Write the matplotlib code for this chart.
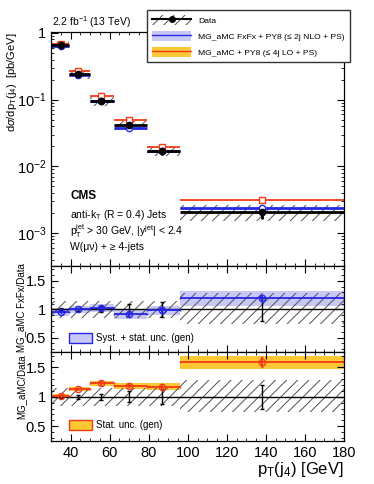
import numpy as np
import matplotlib
matplotlib.use("Agg")
import matplotlib.pyplot as plt
from matplotlib.patches import Patch
from matplotlib.lines import Line2D
from matplotlib.ticker import AutoMinorLocator, FixedLocator, FuncFormatter

plt.rcParams['font.family'] = ['Liberation Sans', 'DejaVu Sans']
plt.rcParams['mathtext.fontset'] = 'custom'
plt.rcParams['mathtext.rm'] = 'Liberation Sans'
plt.rcParams['mathtext.it'] = 'Liberation Sans:italic'
plt.rcParams['mathtext.bf'] = 'Liberation Sans:bold'
plt.rcParams['hatch.linewidth'] = 0.7

# bins in pT(j4) and where the points sit
edges = [30, 39, 50, 62, 79, 96, 180]
centers = [35, 44, 55.5, 70, 87, 138]

# cross sections [pb/GeV]
data = [0.66, 0.239, 0.0955, 0.041, 0.017, 0.00204]
fxfx = [0.64, 0.236, 0.097, 0.037, 0.0168, 0.00236]
lo = [0.69, 0.27, 0.115, 0.049, 0.0195, 0.00315]

# data uncertainties (relative)
data_stat = [0.02, 0.03, 0.05, 0.09, 0.13, 0.20]
syst_up = [0.15, 0.15, 0.15, 0.15, 0.15, 0.29]
syst_dn = [0.15, 0.15, 0.15, 0.15, 0.15, 0.25]

# ratios to data
r_fxfx = [0.955, 1.0, 1.03, 0.92, 0.98, 1.19]
r_fxfx_band = [0.07, 0.06, 0.07, 0.09, 0.08, 0.13]
r_fxfx_err = [0.02, 0.02, 0.03, 0.03, 0.04, 0.06]
r_lo = [1.02, 1.13, 1.23, 1.19, 1.17, 1.59]
r_lo_band = [0.03, 0.03, 0.04, 0.05, 0.06, 0.11]
r_lo_err = [0.02, 0.02, 0.03, 0.03, 0.05, 0.09]

blue = '#2626e6'
blue_band = '#c8c8f7'
red = '#f23a17'
orange = '#fec835'
hatch_col = '#505050'

edges = np.array(edges)
centers = np.array(centers)
xlo = centers - edges[:-1]
xhi = edges[1:] - centers
widths = np.diff(edges)

fig = plt.figure(figsize=(3.74, 4.84), dpi=100)
L, W = 51 / 374, 293 / 374
ax1 = fig.add_axes([L, 1 - 266 / 484, W, 234 / 484])
ax2 = fig.add_axes([L, 1 - 352 / 484, W, 86 / 484])
ax3 = fig.add_axes([L, 1 - 441 / 484, W, 89 / 484])

# ---- top panel
d = np.array(data)
ax1.bar(edges[:-1], d * (np.array(syst_up) + np.array(syst_dn)),
        bottom=d * (1 - np.array(syst_dn)), width=widths, align='edge',
        fill=False, hatch='///', edgecolor=hatch_col, lw=0)
ax1.errorbar(centers, lo, xerr=[xlo, xhi], fmt='s', color=red, mfc='white',
             mec=red, ms=5, lw=1.3, capsize=0)
ax1.errorbar(centers, fxfx, xerr=[xlo, xhi], fmt='o', color=blue, mfc='white',
             mec=blue, ms=4.5, lw=2, capsize=0)
ax1.errorbar(centers, data, xerr=[xlo, xhi], yerr=d * np.array(data_stat),
             fmt='o', color='k', ms=4.5, lw=2, capsize=0)
ax1.set_yscale('log')
ax1.set_ylim(3.2e-4, 1.035)


def logfmt(v, pos):
    if abs(v - 1) < 1e-9:
        return '1'
    return r'$10^{%d}$' % int(round(np.log10(v)))


ax1.yaxis.set_major_formatter(FuncFormatter(logfmt))
ax1.set_ylabel(r'd$\sigma$/dp$_{\mathrm{T}}$(j$_{4}$)  [pb/GeV]', fontsize=8,
               loc='top')
ax1.yaxis.set_label_coords(-0.11, 1.0)

ax1.text(0.003, 1.008, r'2.2 fb$^{-1}$ (13 TeV)', transform=ax1.transAxes,
         fontsize=7.5, va='bottom', ha='left')
ax1.text(0.065, 0.30, 'CMS', transform=ax1.transAxes, fontsize=8.5,
         fontweight='bold', va='center')
ax1.text(0.065, 0.218, r'anti-k$_{\mathrm{T}}$ (R = 0.4) Jets',
         transform=ax1.transAxes, fontsize=7.5, va='center')
ax1.text(0.065, 0.150, r'p$_{\mathrm{T}}^{\mathrm{jet}}$ > 30 GeV, |y$^{\mathrm{jet}}$| < 2.4',
         transform=ax1.transAxes, fontsize=7.5, va='center')
ax1.text(0.065, 0.082, 'W(μν) + ≥ 4-jets', transform=ax1.transAxes,
         fontsize=7.5, va='center')

# ---- middle panel: FxFx / data
ones = np.ones(len(centers))
ax2.bar(edges[:-1], 2 * np.array(r_fxfx_band),
        bottom=np.array(r_fxfx) - np.array(r_fxfx_band), width=widths,
        align='edge', color=blue_band, lw=0)
ax2.bar(edges[:-1], np.array(syst_up) + np.array(syst_dn),
        bottom=1 - np.array(syst_dn), width=widths, align='edge',
        fill=False, hatch='///', edgecolor=hatch_col, lw=0)
ax2.axhline(1, color='k', lw=1)
ax2.errorbar(centers, ones, yerr=data_stat, fmt='none', ecolor='k', lw=1,
             capsize=1.5)
ax2.errorbar(centers, r_fxfx, xerr=[xlo, xhi], yerr=r_fxfx_err, fmt='o',
             color=blue, mfc='none', mec=blue, ms=4.5, lw=1.3, capsize=1)
ax2.set_ylim(0.25, 1.76)
ax2.set_ylabel('MG_aMC FxFx/Data', fontsize=7, loc='top')
ax2.yaxis.set_label_coords(-0.085, 1.03)
ax2.legend(handles=[Patch(facecolor=blue_band, edgecolor=blue, lw=1)],
           labels=['Syst. + stat. unc. (gen)'], loc='lower left',
           bbox_to_anchor=(0.03, 0.0), frameon=False, fontsize=7,
           handlelength=2.4, handleheight=1.3, handletextpad=0.4)

# ---- bottom panel: LO / data
ax3.bar(edges[:-1], 2 * np.array(r_lo_band),
        bottom=np.array(r_lo) - np.array(r_lo_band), width=widths,
        align='edge', color=orange, lw=0)
ax3.bar(edges[:-1], np.array(syst_up) + np.array(syst_dn),
        bottom=1 - np.array(syst_dn), width=widths, align='edge',
        fill=False, hatch='///', edgecolor=hatch_col, lw=0)
ax3.axhline(1, color='k', lw=1)
ax3.errorbar(centers, ones, yerr=data_stat, fmt='none', ecolor='k', lw=1,
             capsize=1.5)
ax3.errorbar(centers, r_lo, xerr=[xlo, xhi], yerr=r_lo_err, fmt='o',
             color=red, mfc='none', mec=red, ms=4.5, lw=1.3, capsize=1)
ax3.set_ylim(0.25, 1.76)
ax3.set_ylabel('MG_aMC/Data', fontsize=7, loc='top')
ax3.yaxis.set_label_coords(-0.085, 0.97)
ax3.legend(handles=[Patch(facecolor=orange, edgecolor=red, lw=1)],
           labels=['Stat. unc. (gen)'], loc='lower left',
           bbox_to_anchor=(0.03, 0.02), frameon=False, fontsize=7,
           handlelength=2.4, handleheight=1.3, handletextpad=0.4)
ax3.set_xlabel(r'p$_{\mathrm{T}}$(j$_{4}$) [GeV]', fontsize=12, loc='right',
               labelpad=0)

for ax in (ax1, ax2, ax3):
    ax.set_xlim(30, 180)
    ax.xaxis.set_major_locator(FixedLocator([40, 60, 80, 100, 120, 140, 160, 180]))
    ax.xaxis.set_minor_locator(AutoMinorLocator(4))
    ax.tick_params(which='both', direction='in', top=True, right=True,
                   labelsize=10.5)
    ax.tick_params(which='major', length=5, width=0.8)
    ax.tick_params(which='minor', length=2.5, width=0.6)
    for s in ax.spines.values():
        s.set_linewidth(0.9)
for ax in (ax2, ax3):
    ax.yaxis.set_major_locator(FixedLocator([0.5, 1.0, 1.5]))
    ax.yaxis.set_minor_locator(AutoMinorLocator(5))
    ax.yaxis.set_major_formatter(FuncFormatter(lambda v, p: '%g' % v))
ax1.tick_params(labelbottom=False)
ax2.tick_params(labelbottom=False)

# ---- main legend
h_data = (Patch(fill=False, hatch='///', edgecolor=hatch_col, lw=0),
          Line2D([], [], color='k', lw=1.5, marker='o', ms=4))
h_fxfx = (Patch(facecolor=blue_band, edgecolor='none'),
          Line2D([], [], color=blue, lw=1))
h_lo = (Patch(facecolor=orange, edgecolor='none'),
        Line2D([], [], color=red, lw=1))
fig.legend([h_data, h_fxfx, h_lo],
           ['Data', 'MG_aMC FxFx + PY8 (≤ 2j NLO + PS)',
            'MG_aMC + PY8 (≤ 4j LO + PS)'],
           loc='upper left', bbox_to_anchor=(147 / 374, 1 - 10 / 484),
           bbox_transform=fig.transFigure, fontsize=6.1, fancybox=False,
           edgecolor='#333333', framealpha=1, handlelength=4.6,
           handleheight=1.5, labelspacing=0.65, borderpad=0.6,
           handletextpad=0.8, borderaxespad=0)

fig.savefig('out.png', dpi=100)
